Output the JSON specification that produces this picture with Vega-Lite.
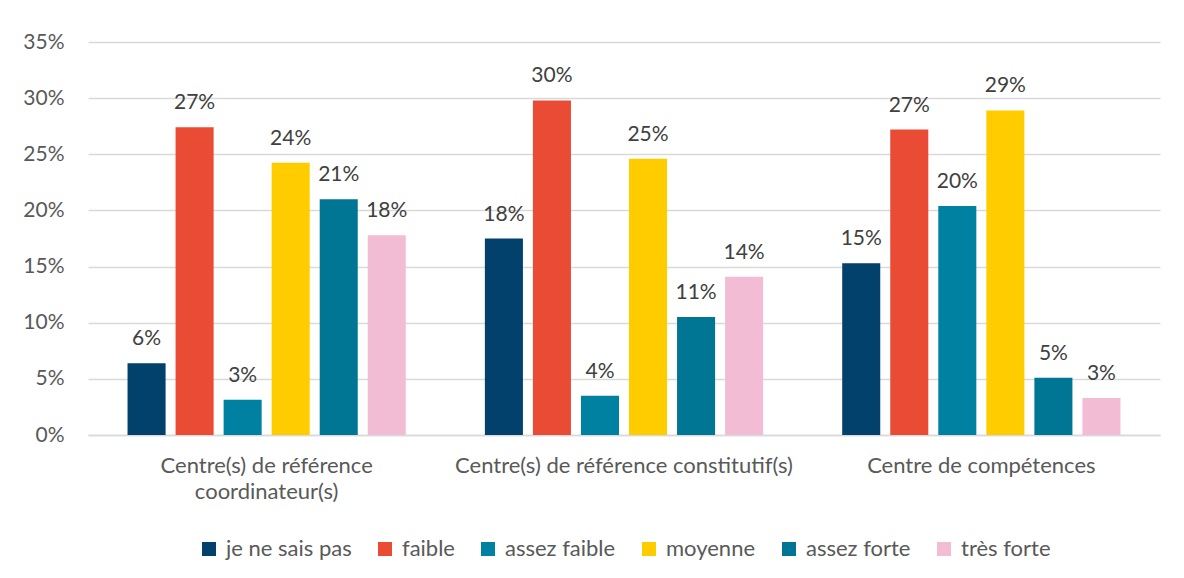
{
  "$schema": "https://vega.github.io/schema/vega-lite/v6.json",
  "autosize": "none",
  "width": 1072,
  "height": 393,
  "padding": {"left": 88, "top": 42, "right": 24, "bottom": 143},
  "background": "white",
  "data": {
    "values": [
      {"cat": "Centre(s) de référence coordinateur(s)", "niveau": "je ne sais pas", "v": 0.064},
      {"cat": "Centre(s) de référence coordinateur(s)", "niveau": "faible", "v": 0.274},
      {"cat": "Centre(s) de référence coordinateur(s)", "niveau": "assez faible", "v": 0.0315},
      {"cat": "Centre(s) de référence coordinateur(s)", "niveau": "moyenne", "v": 0.2425},
      {"cat": "Centre(s) de référence coordinateur(s)", "niveau": "assez forte", "v": 0.21},
      {"cat": "Centre(s) de référence coordinateur(s)", "niveau": "très forte", "v": 0.178},
      {"cat": "Centre(s) de référence constitutif(s)", "niveau": "je ne sais pas", "v": 0.175},
      {"cat": "Centre(s) de référence constitutif(s)", "niveau": "faible", "v": 0.298},
      {"cat": "Centre(s) de référence constitutif(s)", "niveau": "assez faible", "v": 0.035},
      {"cat": "Centre(s) de référence constitutif(s)", "niveau": "moyenne", "v": 0.246},
      {"cat": "Centre(s) de référence constitutif(s)", "niveau": "assez forte", "v": 0.105},
      {"cat": "Centre(s) de référence constitutif(s)", "niveau": "très forte", "v": 0.141},
      {"cat": "Centre de compétences", "niveau": "je ne sais pas", "v": 0.153},
      {"cat": "Centre de compétences", "niveau": "faible", "v": 0.272},
      {"cat": "Centre de compétences", "niveau": "assez faible", "v": 0.204},
      {"cat": "Centre de compétences", "niveau": "moyenne", "v": 0.289},
      {"cat": "Centre de compétences", "niveau": "assez forte", "v": 0.051},
      {"cat": "Centre de compétences", "niveau": "très forte", "v": 0.033}
    ]
  },
  "encoding": {
    "x": {
      "field": "cat", "type": "nominal", "sort": null,
      "scale": {"paddingInner": 0, "paddingOuter": 0},
      "axis": {
        "title": null, "labelAngle": 0, "ticks": false, "labelLimit": 0,
        "domainColor": "#d9d9d9", "domainWidth": 1.5,
        "labelFont": "Lato", "labelFontSize": 22, "labelColor": "#595959",
        "labelPadding": 20, "labelLineHeight": 26,
        "labelExpr": "datum.value == 'Centre(s) de référence coordinateur(s)' ? ['Centre(s) de référence', 'coordinateur(s)'] : datum.value"
      }
    },
    "xOffset": {
      "field": "niveau", "type": "nominal", "sort": ["je ne sais pas", "faible", "assez faible", "moyenne", "assez forte", "très forte"],
      "scale": {"paddingInner": 0.208, "paddingOuter": 0.823}
    },
    "y": {
      "field": "v", "type": "quantitative",
      "scale": {"domain": [0, 0.35]},
      "axis": {
        "title": null, "format": ".0%", "values": [0, 0.05, 0.1, 0.15, 0.2, 0.25, 0.3, 0.35],
        "ticks": false, "domain": false,
        "gridColor": "#d9d9d9", "gridWidth": 1.5,
        "labelFont": "Lato", "labelFontSize": 21, "labelColor": "#595959",
        "labelPadding": 24
      }
    }
  },
  "layer": [
    {
      "mark": {"type": "bar"},
      "encoding": {
        "color": {
          "field": "niveau", "type": "nominal",
          "scale": {
            "domain": ["je ne sais pas", "faible", "assez faible", "moyenne", "assez forte", "très forte"],
            "range": ["#01416b", "#e94b35", "#0081a2", "#ffcc00", "#017694", "#f2bdd4"]
          },
          "legend": {
            "title": null, "orient": "bottom", "direction": "horizontal",
            "symbolType": "square", "symbolSize": 196, "symbolStrokeWidth": 0,
            "labelFont": "Lato", "labelFontSize": 22, "labelColor": "#595959",
            "labelOffset": 6, "columnPadding": 22, "offset": 36, "labelLimit": 0
          }
        }
      }
    },
    {
      "mark": {"type": "text", "baseline": "alphabetic", "dy": -18, "font": "Lato", "fontSize": 21, "color": "#404040"},
      "encoding": {
        "text": {"field": "v", "type": "quantitative", "format": ".0%"}
      }
    }
  ],
  "config": {
    "view": {"stroke": null},
    "legend": {"layout": {"bottom": {"anchor": "middle"}}}
  }
}
